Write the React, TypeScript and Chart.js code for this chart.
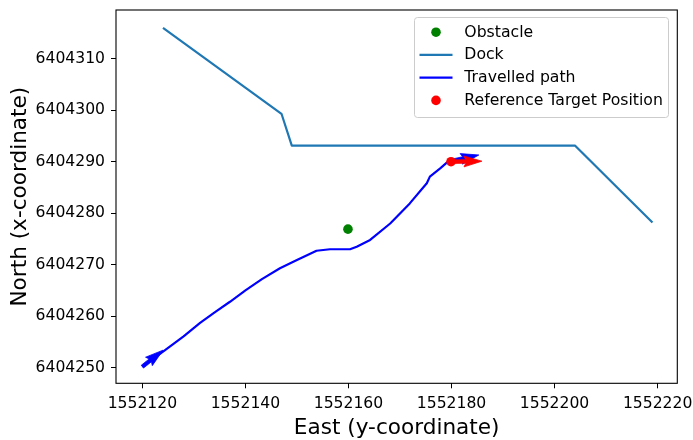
import { useEffect, useRef } from 'react';
import { Chart, registerables } from 'chart.js';

Chart.register(...registerables);

// ---- data ----
const obstacleEast = [1552159.9];
const obstacleNorth = [6404276.9];

const dockEast = [1552124, 1552147, 1552149, 1552204, 1552219];
const dockNorth = [6404316, 6404299.3, 6404293.1, 6404293.1, 6404278.2];

const pathEast = [
  1552120.0, 1552124.4, 1552128.0, 1552131.2, 1552134.1, 1552137.0, 1552140.0, 1552143.2,
  1552146.7, 1552150.0, 1552153.8, 1552156.4, 1552160.3, 1552161.6, 1552164.2, 1552168.1,
  1552171.9, 1552175.2, 1552175.8, 1552177.8, 1552179.3, 1552179.9,
];
const pathNorth = [
  6404250.2, 6404253.4, 6404256.1, 6404258.7, 6404260.8, 6404262.8, 6404265.0, 6404267.2,
  6404269.3, 6404270.9, 6404272.7, 6404273.0, 6404273.0, 6404273.5, 6404274.8, 6404278.0,
  6404281.9, 6404285.8, 6404287.1, 6404288.7, 6404290.0, 6404290.1,
];

const targetEast = [1552179.9];
const targetNorth = [6404290.0];

// quiver arrows (tail -> tip), drawn through the chart scales
const arrowTailEast = [1552120.0, 1552179.9, 1552179.9];
const arrowTailNorth = [6404250.2, 6404290.1, 6404290.0];
const arrowTipEast = [1552124.0, 1552185.3, 1552185.9];
const arrowTipNorth = [6404253.4, 6404291.3, 6404290.1];
const arrowColors = ['#0000ff', '#0000ff', '#ff0000'];
const arrowAfterDataset = [2, 2, 3];

const xTicks = [1552120, 1552140, 1552160, 1552180, 1552200, 1552220];
const yTicks = [6404250, 6404260, 6404270, 6404280, 6404290, 6404300, 6404310];
const xLimits = [1552114.88, 1552223.82];
const yLimits = [6404246.97, 6404319.45];

const seriesLabels = ['Obstacle', 'Dock', 'Travelled path', 'Reference Target Position'];
const xTitle = 'East (y-coordinate)';
const yTitle = 'North (x-coordinate)';

const FONT = "'DejaVu Sans', 'Liberation Sans', sans-serif";

function drawQuiver(ctx: CanvasRenderingContext2D, x0: number, y0: number, x1: number, y1: number, color: string) {
  const dx = x1 - x0;
  const dy = y1 - y0;
  const L = Math.hypot(dx, dy);
  if (L === 0) return;
  const ux = dx / L, uy = dy / L;
  const nx = -uy, ny = ux;
  const w = 3.6;
  const hw = 3 * w, hl = 5 * w, hal = 4.5 * w;
  const pts: [number, number][] = [
    [0, -w / 2], [L - hal, -w / 2], [L - hl, -hw / 2], [L, 0],
    [L - hl, hw / 2], [L - hal, w / 2], [0, w / 2],
  ];
  ctx.save();
  ctx.beginPath();
  pts.forEach(([a, b], i) => {
    const px = x0 + ux * a + nx * b;
    const py = y0 + uy * a + ny * b;
    if (i === 0) ctx.moveTo(px, py); else ctx.lineTo(px, py);
  });
  ctx.closePath();
  ctx.fillStyle = color;
  ctx.strokeStyle = color;
  ctx.lineWidth = 0.8;
  ctx.fill();
  ctx.stroke();
  ctx.restore();
}

const zeroPadding = (s: any) => {
  s.paddingTop = 0;
  s.paddingBottom = 0;
  s.paddingLeft = 0;
  s.paddingRight = 0;
};

const extrasPlugin = {
  id: 'extras',
  afterDatasetDraw(chart: any, args: any) {
    const ctx = chart.ctx as CanvasRenderingContext2D;
    const xs = chart.scales.x, ys = chart.scales.y;
    const ca = chart.chartArea;
    ctx.save();
    ctx.beginPath();
    ctx.rect(ca.left, ca.top, ca.right - ca.left, ca.bottom - ca.top);
    ctx.clip();
    for (let i = 0; i < arrowTailEast.length; i++) {
      if (arrowAfterDataset[i] !== args.index) continue;
      drawQuiver(
        ctx,
        xs.getPixelForValue(arrowTailEast[i]), ys.getPixelForValue(arrowTailNorth[i]),
        xs.getPixelForValue(arrowTipEast[i]), ys.getPixelForValue(arrowTipNorth[i]),
        arrowColors[i],
      );
    }
    ctx.restore();
  },
  afterDraw(chart: any) {
    const ctx = chart.ctx as CanvasRenderingContext2D;
    const ca = chart.chartArea;
    // frame
    ctx.save();
    ctx.strokeStyle = '#000';
    ctx.lineWidth = 1.1;
    ctx.strokeRect(ca.left, ca.top, ca.right - ca.left, ca.bottom - ca.top);
    ctx.restore();

    // legend
    const bx = 414.5, by = 17.5, bw = 254, bh = 100, r = 3;
    ctx.save();
    ctx.beginPath();
    ctx.moveTo(bx + r, by);
    ctx.lineTo(bx + bw - r, by);
    ctx.arcTo(bx + bw, by, bx + bw, by + r, r);
    ctx.lineTo(bx + bw, by + bh - r);
    ctx.arcTo(bx + bw, by + bh, bx + bw - r, by + bh, r);
    ctx.lineTo(bx + r, by + bh);
    ctx.arcTo(bx, by + bh, bx, by + bh - r, r);
    ctx.lineTo(bx, by + r);
    ctx.arcTo(bx, by, bx + r, by, r);
    ctx.closePath();
    ctx.fillStyle = 'rgba(255,255,255,0.8)';
    ctx.fill();
    ctx.strokeStyle = '#cccccc';
    ctx.lineWidth = 1;
    ctx.stroke();

    const rowsY = [32.2, 54.8, 77.6, 100.4];
    const handleX0 = 419.5, handleX1 = 452.5, markerX = 436;
    const textX = 464.3;
    chart.data.datasets.forEach((ds: any, i: number) => {
      const y = rowsY[i];
      if (ds.showLine) {
        ctx.beginPath();
        ctx.moveTo(handleX0, y);
        ctx.lineTo(handleX1, y);
        ctx.strokeStyle = ds.borderColor;
        ctx.lineWidth = ds.borderWidth;
        ctx.stroke();
      } else {
        ctx.beginPath();
        ctx.arc(markerX, y, ds.pointRadius, 0, Math.PI * 2);
        ctx.fillStyle = ds.backgroundColor;
        ctx.fill();
      }
      ctx.fillStyle = '#000';
      ctx.font = `15.7px ${FONT}`;
      ctx.textBaseline = 'middle';
      ctx.textAlign = 'left';
      ctx.fillText(ds.label, textX, y + 0.5);
    });
    ctx.restore();
  },
};

export default function App() {
  const canvasRef = useRef<HTMLCanvasElement | null>(null);

  useEffect(() => {
    const canvas = canvasRef.current;
    if (!canvas) return;
    Chart.defaults.font.family = FONT;

    const toPts = (xs: number[], ys: number[]) => xs.map((x, i) => ({ x, y: ys[i] }));

    const chart = new Chart(canvas, {
      type: 'scatter',
      data: {
        datasets: [
          {
            label: seriesLabels[0],
            data: toPts(obstacleEast, obstacleNorth),
            showLine: false,
            pointRadius: 4.8,
            pointBackgroundColor: '#008000',
            backgroundColor: '#008000',
            pointBorderWidth: 0,
            order: 4,
          },
          {
            label: seriesLabels[1],
            data: toPts(dockEast, dockNorth),
            showLine: true,
            borderColor: '#1f77b4',
            borderWidth: 2.2,
            pointRadius: 0,
            tension: 0,
            borderJoinStyle: 'round',
            order: 3,
          },
          {
            label: seriesLabels[2],
            data: toPts(pathEast, pathNorth),
            showLine: true,
            borderColor: '#0000ff',
            borderWidth: 2.2,
            pointRadius: 0,
            tension: 0,
            borderJoinStyle: 'round',
            order: 2,
          },
          {
            label: seriesLabels[3],
            data: toPts(targetEast, targetNorth),
            showLine: false,
            pointRadius: 4.8,
            pointBackgroundColor: '#ff0000',
            backgroundColor: '#ff0000',
            pointBorderWidth: 0,
            order: 1,
          },
        ] as any,
      },
      options: {
        responsive: false,
        maintainAspectRatio: false,
        animation: false,
        devicePixelRatio: 1,
        layout: { padding: { left: 0, top: 10, right: 15.7, bottom: 0 } },
        plugins: {
          legend: { display: false },
          tooltip: { enabled: false },
        },
        scales: {
          x: {
            type: 'linear',
            min: xLimits[0],
            max: xLimits[1],
            afterBuildTicks: (s: any) => { s.ticks = xTicks.map((v) => ({ value: v })); },
            afterFit: (s: any) => { s.height = 440 - 383.3; zeroPadding(s); },
            ticks: {
              callback: (v: any) => String(v),
              font: { family: FONT, size: 15.6 },
              color: '#000',
              padding: 6,
              maxRotation: 0,
              autoSkip: false,
            },
            grid: { drawOnChartArea: false, drawTicks: true, tickLength: 5, color: '#000', lineWidth: 1 },
            border: { display: false },
            title: {
              display: true,
              text: xTitle,
              color: '#000',
              font: { family: FONT, size: 21.6, lineHeight: 1.05 },
              padding: { top: 0, bottom: 0 },
            },
          },
          y: {
            type: 'linear',
            min: yLimits[0],
            max: yLimits[1],
            afterBuildTicks: (s: any) => { s.ticks = yTicks.map((v) => ({ value: v })); },
            afterFit: (s: any) => { s.width = 116; zeroPadding(s); },
            ticks: {
              callback: (v: any) => String(v),
              font: { family: FONT, size: 15.6 },
              color: '#000',
              padding: 6,
              autoSkip: false,
            },
            grid: { drawOnChartArea: false, drawTicks: true, tickLength: 5, color: '#000', lineWidth: 1 },
            border: { display: false },
            title: {
              display: true,
              text: yTitle,
              color: '#000',
              font: { family: FONT, size: 21.6 },
              padding: { top: 7, bottom: 0 },
            },
          },
        },
      } as any,
      plugins: [extrasPlugin],
    });

    return () => { chart.destroy(); };
  }, []);

  return (
    <div style={{ position: 'absolute', left: 0, top: 0, width: 693, height: 440, background: '#fff' }}>
      <canvas ref={canvasRef} width={693} height={440} style={{ width: 693, height: 440, display: 'block' }} />
    </div>
  );
}
